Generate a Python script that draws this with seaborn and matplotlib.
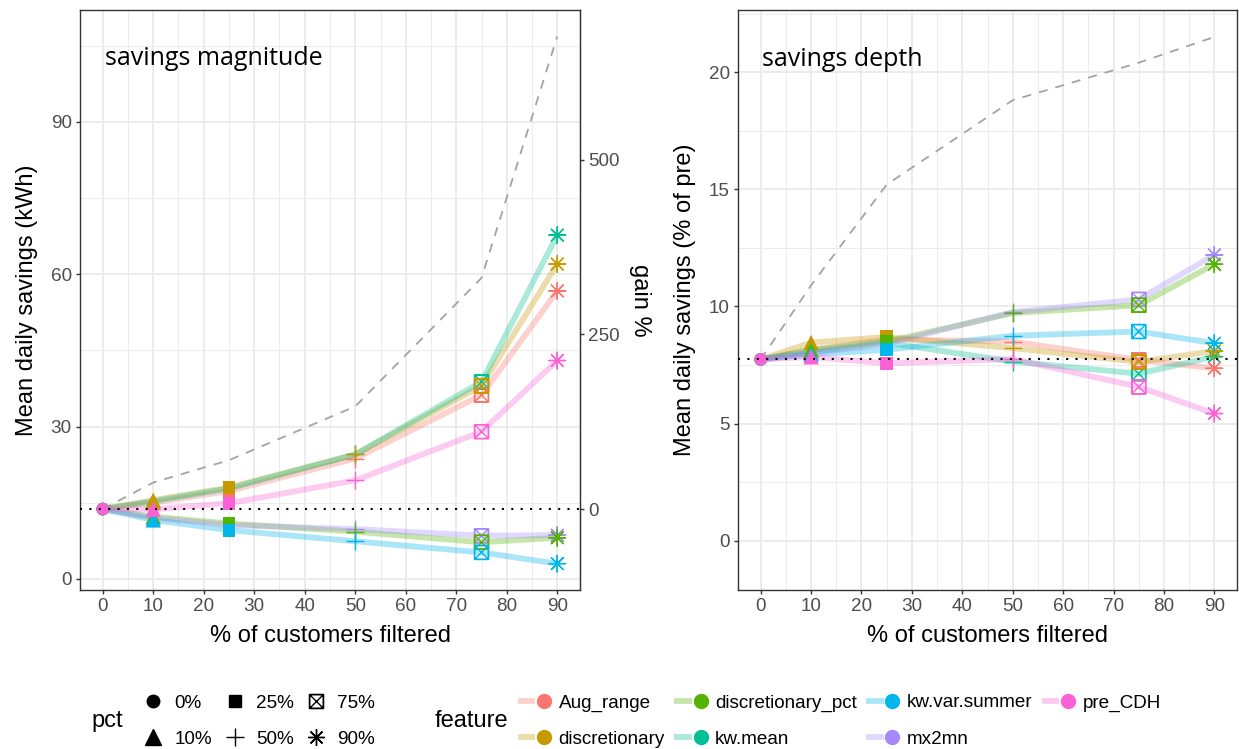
import numpy as np
import pandas as pd
import matplotlib
matplotlib.use("Agg")
import matplotlib.pyplot as plt
from matplotlib.path import Path
from matplotlib.lines import Line2D
from matplotlib.legend_handler import HandlerTuple
import seaborn as sns

# ---------------------------------------------------------------- data
filtered = [0, 10, 25, 50, 75, 90]                      # % of customers filtered
pct_levels = ["0%", "10%", "25%", "50%", "75%", "90%"]
features = ["Aug_range", "discretionary", "discretionary_pct", "kw.mean",
            "kw.var.summer", "mx2mn", "pre_CDH"]
feature_colors = ["#F8766D", "#C49A00", "#53B400", "#00C094",
                  "#00B6EB", "#A58AFF", "#FB61D7"]
# order in which the point layers are stacked (first = bottom)
point_order = ["kw.mean", "mx2mn", "Aug_range", "discretionary",
               "discretionary_pct", "kw.var.summer", "pre_CDH"]

# savings magnitude: mean daily savings (kWh)
kwh_aug_range = [13.75, 15.0, 17.3, 23.7, 36.2, 56.7]
kwh_discretionary = [13.75, 15.5, 18.0, 24.5, 38.0, 62.0]
kwh_discretionary_pct = [13.75, 12.25, 10.9, 9.3, 7.2, 8.1]
kwh_kw_mean = [13.75, 15.3, 17.8, 24.5, 38.8, 67.7]
kwh_kw_var_summer = [13.75, 11.6, 9.6, 7.4, 5.2, 3.0]
kwh_mx2mn = [13.75, 12.0, 10.6, 9.8, 8.5, 8.6]
kwh_pre_cdh = [13.75, 13.7, 14.9, 19.4, 29.0, 43.0]
kwh_baseline = 13.75
gain_pct = [0, 38, 70, 147, 331, 677]                   # dashed line, gain %

# savings depth: mean daily savings (% of pre)
pre_aug_range = [7.74, 8.15, 8.6, 8.5, 7.72, 7.36]
pre_discretionary = [7.74, 8.46, 8.7, 8.22, 7.63, 8.1]
pre_discretionary_pct = [7.74, 8.15, 8.5, 9.72, 10.05, 11.8]
pre_kw_mean = [7.74, 8.05, 8.45, 7.65, 7.13, 7.86]
pre_kw_var_summer = [7.74, 7.95, 8.15, 8.75, 8.93, 8.43]
pre_mx2mn = [7.74, 8.0, 8.4, 9.76, 10.3, 12.2]
pre_pre_cdh = [7.74, 7.85, 7.57, 7.76, 6.57, 5.43]
pre_baseline = 7.74
pre_trend = [7.74, 10.9, 15.2, 18.8, 20.4, 21.5]         # dashed line

kwh_series = [kwh_aug_range, kwh_discretionary, kwh_discretionary_pct, kwh_kw_mean,
              kwh_kw_var_summer, kwh_mx2mn, kwh_pre_cdh]
pre_series = [pre_aug_range, pre_discretionary, pre_discretionary_pct, pre_kw_mean,
              pre_kw_var_summer, pre_mx2mn, pre_pre_cdh]


def long_frame(series):
    rows = []
    for feat, vals in zip(features, series):
        for x, p, v in zip(filtered, pct_levels, vals):
            rows.append((feat, x, p, v))
    return pd.DataFrame(rows, columns=["feature", "filtered", "pct", "savings"])


# ---------------------------------------------------------------- markers
def boxed_cross():
    # square outline traced forwards and back (zero fill area) plus the two diagonals
    M, L = Path.MOVETO, Path.LINETO
    verts = [(-1, -1), (1, -1), (1, 1), (-1, 1), (-1, -1),
             (-1, 1), (1, 1), (1, -1), (-1, -1),
             (-1, -1), (1, 1), (-1, 1), (1, -1)]
    codes = [M, L, L, L, L, L, L, L, L, M, L, M, L]
    return Path(verts, codes)


BOXX = boxed_cross()
ASTERISK = (8, 2, 0)

marker_spec = {
    "0%": ("o", 9.0, True),
    "10%": ("^", 11.0, True),
    "25%": ("s", 9.3, True),
    "50%": ("+", 13.0, False),
    "75%": (BOXX, 10.0, False),
    "90%": (ASTERISK, 12.0, False),
}

# ---------------------------------------------------------------- style
plt.rcParams["font.family"] = ["Liberation Sans", "DejaVu Sans"]
GRID = "#EBEBEB"
INK = "#333333"
TICK_TXT = "#4D4D4D"
TICK_SIZE = 13.6
TITLE_SIZE = 17

W, H = 1239, 749
fig = plt.figure(figsize=(W / 100, H / 100), dpi=100)
ax_l = fig.add_axes([80 / W, 1 - 590 / H, 500 / W, 580 / H])
ax_r = fig.add_axes([738 / W, 1 - 590 / H, 499 / W, 580 / H])
color_of = dict(zip(features, feature_colors))


def draw_panel(ax, df, baseline, trend_x, trend_y):
    sns.lineplot(data=df, x="filtered", y="savings", hue="feature",
                 hue_order=features, palette=feature_colors, linewidth=4.2,
                 alpha=0.33, legend=False, estimator=None, ax=ax, zorder=3,
                 solid_capstyle="butt", solid_joinstyle="round")
    sns.lineplot(x=trend_x, y=trend_y, color="#A3A3A3", linewidth=1.3,
                 linestyle=(0, (5, 4.5)), ax=ax, zorder=2, legend=False)
    stacked = df.assign(rank=df["feature"].map(point_order.index)).sort_values(
        ["rank", "filtered"])
    for lvl in pct_levels:
        marker, size, filled = marker_spec[lvl]
        sub = stacked[stacked["pct"] == lvl]
        sns.scatterplot(data=sub, x="filtered", y="savings", hue="feature",
                        hue_order=point_order,
                        palette=[color_of[f] for f in point_order],
                        marker=marker, s=size ** 2,
                        linewidth=0 if filled else 1.0,
                        legend=False, ax=ax, zorder=4)
        if not filled:
            coll = ax.collections[-1]
            fc = np.array(coll.get_facecolors())
            coll.set_edgecolor(fc)
            coll.set_facecolor("none")
            coll.set_linewidth(1.0)
    ax.axhline(baseline, color="black", linewidth=1.5,
               linestyle=(0, (1, 3.5)), zorder=5)

    ax.set_xlim(-4.5, 94.5)
    ax.set_xticks(range(0, 91, 10))
    ax.set_xticks(range(5, 90, 10), minor=True)
    ax.grid(which="major", color=GRID, linewidth=1.3, zorder=0)
    ax.grid(which="minor", color=GRID, linewidth=0.65, zorder=0)
    ax.set_axisbelow(True)
    for sp in ax.spines.values():
        sp.set_color(INK)
        sp.set_linewidth(1.0)
    ax.tick_params(which="major", direction="out", length=3, width=1,
                   color=INK, labelcolor=TICK_TXT, labelsize=TICK_SIZE, pad=3)
    ax.tick_params(which="minor", length=0)
    ax.set_xlabel("% of customers filtered", fontsize=TITLE_SIZE, labelpad=7)


# ---- savings magnitude
df_kwh = long_frame(kwh_series)
trend_kwh = [kwh_baseline * (1 + g / 100) for g in gain_pct]
draw_panel(ax_l, df_kwh, kwh_baseline, filtered, trend_kwh)
lo = min(df_kwh["savings"].min(), min(trend_kwh))
hi = max(df_kwh["savings"].max(), max(trend_kwh))
pad = 0.05 * (hi - lo)
ax_l.set_ylim(lo - pad, hi + pad)
ax_l.set_yticks([0, 30, 60, 90])
ax_l.set_yticks([15, 45, 75, 105], minor=True)
ax_l.set_ylabel("Mean daily savings (kWh)", fontsize=TITLE_SIZE, labelpad=9)

sec = ax_l.secondary_yaxis(
    "right",
    functions=(lambda v: (v / kwh_baseline - 1) * 100,
               lambda g: kwh_baseline * (1 + g / 100)))
sec.set_yticks([0, 250, 500])
sec.tick_params(direction="out", length=3, width=1, color=INK,
                labelcolor=TICK_TXT, labelsize=TICK_SIZE, pad=3)
sec.spines["right"].set_color(INK)
sec.set_ylabel("gain %", fontsize=TITLE_SIZE, rotation=270, labelpad=22)
ax_l.text(0.05, 0.916, "savings magnitude", transform=ax_l.transAxes,
          fontsize=18, family="Open Sans", va="center", ha="left", zorder=6)

# ---- savings depth
df_pre = long_frame(pre_series)
draw_panel(ax_r, df_pre, pre_baseline, filtered, pre_trend)
ax_r.set_ylim(-2.1, 22.65)
ax_r.set_yticks([0, 5, 10, 15, 20])
ax_r.set_yticks([2.5, 7.5, 12.5, 17.5, 22.5], minor=True)
ax_r.set_ylabel("Mean daily savings (% of pre)", fontsize=TITLE_SIZE, labelpad=9)
ax_r.text(0.048, 0.914, "savings depth", transform=ax_r.transAxes,
          fontsize=18, family="Open Sans", va="center", ha="left", zorder=6)

# ---------------------------------------------------------------- legends
LEG_Y = 1 - 721 / H
pct_handles = []
for lvl in pct_levels:
    marker, size, filled = marker_spec[lvl]
    pct_handles.append(Line2D([], [], linestyle="", marker=marker, color="black",
                              markersize=size, markeredgewidth=1.0,
                              fillstyle="full" if filled else "none"))
fig.text(91 / W, LEG_Y, "pct", fontsize=TITLE_SIZE, ha="left", va="center")
fig.legend(pct_handles, pct_levels, ncol=3, loc="center left",
           bbox_to_anchor=(136 / W, LEG_Y), frameon=False, fontsize=TICK_SIZE,
           handlelength=1.85, handletextpad=0.2, columnspacing=0.25,
           labelspacing=1.0, borderpad=0, borderaxespad=0)

feat_handles = []
for c in feature_colors:
    feat_handles.append((Line2D([], [], color=c, linewidth=4.2, alpha=0.33,
                                solid_capstyle="butt"),
                         Line2D([], [], color=c, linestyle="", marker="o",
                                markersize=10)))
fig.text(435 / W, LEG_Y, "feature", fontsize=TITLE_SIZE, ha="left", va="center")
fig.legend(feat_handles, features, ncol=4, loc="center left",
           bbox_to_anchor=(518 / W, LEG_Y), frameon=False, fontsize=TICK_SIZE,
           handlelength=1.85, handletextpad=0.3, columnspacing=0.5,
           labelspacing=1.0, borderpad=0, borderaxespad=0,
           handler_map={tuple: HandlerTuple(ndivide=None, pad=0)})

fig.savefig("out.png", dpi=100)
